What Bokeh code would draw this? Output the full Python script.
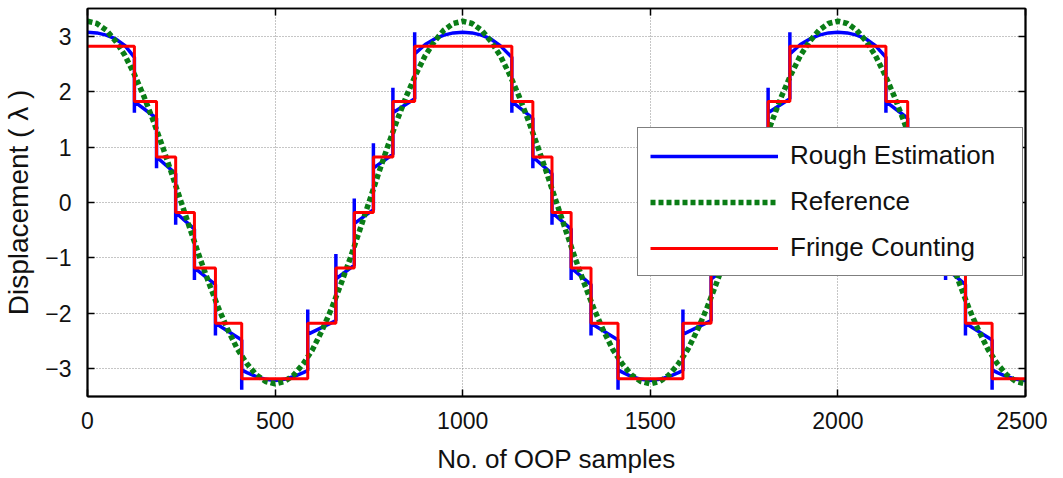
from bokeh.plotting import figure
from bokeh.models import Range1d, LinearAxis, Legend, LegendItem, FixedTicker, CustomJSTickFormatter
from bokeh.embed import file_html
from bokeh.resources import INLINE

# ---------------- data ----------------
x_ticks = [0, 500, 1000, 1500, 2000, 2500]
y_ticks = [-3, -2, -1, 0, 1, 2, 3]

# Reference displacement, sampled every 25 OOP samples
ref_x = list(range(0, 2501, 25))
ref_y = [3.27, 3.23, 3.11, 2.91, 2.65, 2.31, 1.92, 1.48, 1.01, 0.51,
         0.00, -0.51, -1.01, -1.48, -1.92, -2.31, -2.65, -2.91, -3.11, -3.23,
         -3.27, -3.23, -3.11, -2.91, -2.65, -2.31, -1.92, -1.48, -1.01, -0.51,
         0.00, 0.51, 1.01, 1.48, 1.92, 2.31, 2.65, 2.91, 3.11, 3.23,
         3.27, 3.23, 3.11, 2.91, 2.65, 2.31, 1.92, 1.48, 1.01, 0.51,
         0.00, -0.51, -1.01, -1.48, -1.92, -2.31, -2.65, -2.91, -3.11, -3.23,
         -3.27, -3.23, -3.11, -2.91, -2.65, -2.31, -1.92, -1.48, -1.01, -0.51,
         0.00, 0.51, 1.01, 1.48, 1.92, 2.31, 2.65, 2.91, 3.11, 3.23,
         3.27, 3.23, 3.11, 2.91, 2.65, 2.31, 1.92, 1.48, 1.01, 0.51,
         0.00, -0.51, -1.01, -1.48, -1.92, -2.31, -2.65, -2.91, -3.11, -3.23,
         -3.27]

# Fringe counting staircase (value holds from x[i] to x[i+1])
fringe_x = [0, 125, 184, 235, 285, 341, 411, 587, 662, 711, 762, 814, 872,
            1131, 1187, 1238, 1289, 1342, 1414, 1587, 1662, 1711, 1762, 1814, 1872,
            2128, 2186, 2236, 2287, 2340, 2411, 2500]
fringe_y = [2.82, 1.82, 0.82, -0.18, -1.18, -2.18, -3.18, -2.18, -1.18, -0.18, 0.82, 1.82, 2.82,
            1.82, 0.82, -0.18, -1.18, -2.18, -3.18, -2.18, -1.18, -0.18, 0.82, 1.82, 2.82,
            1.82, 0.82, -0.18, -1.18, -2.18, -3.18, -3.18]

# Rough estimation (with spikes at the fringe transitions)
rough_x = [0, 25, 50, 75, 100, 125, 125, 125, 184, 184, 184, 235, 235, 235, 285, 285, 285,
           341, 341, 341, 411, 411, 411, 425, 450, 475, 500, 525, 550, 575, 587, 587, 587,
           662, 662, 662, 711, 711, 711, 762, 762, 762, 814, 814, 814, 872, 872, 872,
           900, 925, 950, 975, 1000, 1025, 1050, 1075, 1100, 1131, 1131, 1131,
           1187, 1187, 1187, 1238, 1238, 1238, 1289, 1289, 1289, 1342, 1342, 1342,
           1414, 1414, 1414, 1425, 1450, 1475, 1500, 1525, 1550, 1575, 1587, 1587, 1587,
           1662, 1662, 1662, 1711, 1711, 1711, 1762, 1762, 1762, 1814, 1814, 1814,
           1872, 1872, 1872, 1900, 1925, 1950, 1975, 2000, 2025, 2050, 2075, 2100,
           2128, 2128, 2128, 2186, 2186, 2186, 2236, 2236, 2236, 2287, 2287, 2287,
           2340, 2340, 2340, 2411, 2411, 2411, 2425, 2450, 2475, 2500]
rough_y = [3.07, 3.06, 3.02, 2.95, 2.83, 2.62, 1.62, 1.82, 1.52, 0.62, 0.82, 0.52, -0.40, -0.18,
           -0.48, -1.40, -1.18, -1.48, -2.40, -2.18, -2.48, -3.38, -3.02,
           -3.07, -3.14, -3.19, -3.21, -3.19, -3.14, -3.07, -3.03, -1.93, -2.38,
           -2.13, -0.93, -1.38, -1.13, 0.07, -0.38, -0.13, 1.07, 0.62, 0.87, 2.07, 1.62,
           1.87, 3.07, 2.68,
           2.85, 2.95, 3.02, 3.06, 3.07, 3.06, 3.02, 2.95, 2.83, 2.62, 1.62, 1.82,
           1.52, 0.62, 0.82, 0.52, -0.40, -0.18, -0.48, -1.40, -1.18, -1.48, -2.40, -2.18,
           -2.48, -3.38, -3.02, -3.06, -3.14, -3.19, -3.21, -3.19, -3.14, -3.07, -3.03, -1.93, -2.38,
           -2.13, -0.93, -1.38, -1.13, 0.07, -0.38, -0.13, 1.07, 0.62, 0.87, 2.07, 1.62,
           1.87, 3.07, 2.68, 2.85, 2.95, 3.02, 3.06, 3.07, 3.06, 3.02, 2.95, 2.83,
           2.62, 1.62, 1.82, 1.52, 0.62, 0.82, 0.52, -0.40, -0.18, -0.48, -1.40, -1.18,
           -1.48, -2.40, -2.18, -2.48, -3.38, -3.02, -3.07, -3.14, -3.19, -3.21]

FONT = "Liberation Sans"

p = figure(frame_width=938, frame_height=388,
           min_border_left=80, min_border_right=22, min_border_top=8, min_border_bottom=79,
           x_range=Range1d(0, 2500), y_range=Range1d(-3.5, 3.5),
           output_backend="svg", toolbar_location=None,
           background_fill_color="white", border_fill_color="white")

p.outline_line_color = "black"
p.outline_line_width = 1.5

for ax, ticks in ((p.xaxis[0], x_ticks), (p.yaxis[0], y_ticks)):
    ax.ticker = FixedTicker(ticks=ticks)
    ax.major_tick_in = 7
    ax.major_tick_out = 0
    ax.minor_tick_line_color = None
    ax.axis_line_color = "black"
    ax.axis_line_width = 2
    ax.major_tick_line_color = "black"
    ax.major_tick_line_width = 1.5
    ax.major_label_text_font = FONT
    ax.major_label_text_font_size = "23px"
    ax.major_label_text_color = "#111111"
    ax.axis_label_text_font = FONT
    ax.axis_label_text_font_style = "normal"
    ax.axis_label_text_color = "#111111"

p.xaxis.axis_label = "No. of OOP samples"
p.xaxis.axis_label_text_font_size = "26px"
p.xaxis.major_label_standoff = 15
p.xaxis.axis_label_standoff = 12

p.yaxis.axis_label = "Displacement ( λ )"
p.yaxis.axis_label_text_font_size = "28px"
p.yaxis.major_label_standoff = 16
p.yaxis.axis_label_standoff = 8

# mirrored axes (ticks only) on top and right
blank = CustomJSTickFormatter(code="return '';")
top = LinearAxis(ticker=FixedTicker(ticks=x_ticks), formatter=blank, major_tick_in=7, major_tick_out=0,
                 minor_tick_line_color=None, major_label_text_font_size="0px",
                 major_label_standoff=0, axis_line_color="black", axis_line_width=1.5,
                 major_tick_line_width=1.5)
right = LinearAxis(ticker=FixedTicker(ticks=y_ticks), formatter=blank, major_tick_in=7, major_tick_out=0,
                   minor_tick_line_color=None, major_label_text_font_size="0px",
                   major_label_standoff=0, axis_line_color="black", axis_line_width=2,
                   major_tick_line_width=1.5)
p.add_layout(top, "above")
p.add_layout(right, "right")

p.xgrid.ticker = FixedTicker(ticks=x_ticks)
p.ygrid.ticker = FixedTicker(ticks=y_ticks)
for g in (p.xgrid[0], p.ygrid[0]):
    g.grid_line_color = "#8c8c8c"
    g.grid_line_dash = "1 2"
    g.grid_line_width = 1

r_rough = p.line(rough_x, rough_y, line_color="#0000ff", line_width=3.5)
r_ref = p.line(ref_x, ref_y, line_color="#0a7d16", line_width=5.5, line_dash="5 3")
r_fringe = p.step(fringe_x, fringe_y, mode="after", line_color="#ff0000", line_width=3)

legend = Legend(items=[LegendItem(label="Rough Estimation", renderers=[r_rough]),
                       LegendItem(label="Reference", renderers=[r_ref]),
                       LegendItem(label="Fringe Counting", renderers=[r_fringe])],
                location=(550, 120), margin=0, padding=12, spacing=15,
                glyph_width=128, glyph_height=26, label_height=26, label_width=220,
                label_standoff=12, label_text_font=FONT, label_text_font_size="26px",
                label_text_color="#111111",
                border_line_color="black", border_line_width=1.5,
                background_fill_color="white", background_fill_alpha=1.0)
p.add_layout(legend)

open("out.html", "w").write(file_html(p, INLINE))
